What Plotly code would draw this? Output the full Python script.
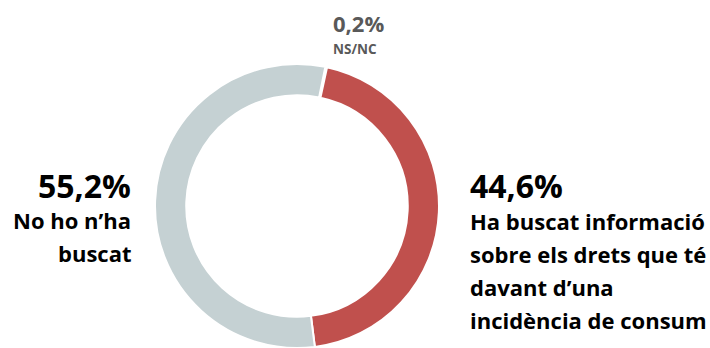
import plotly.graph_objects as go

# Survey answers (percent of respondents)
labels = ["NS/NC", "Ha buscat informació sobre els drets que té davant d’una incidència de consum", "No ho n’ha buscat"]
values = [0.2, 44.6, 55.2]
colors = ["#ffffff", "#c0504d", "#c5d1d3"]

# Text lines for the side labels
right_lines = ["Ha buscat informació", "sobre els drets que té", "davant d’una", "incidència de consum"]
left_lines = ["No ho n’ha", "buscat"]

W, H = 710, 348
CX, R = 297, 142  # ring centre x and outer radius in pixels

def pct(v):
    return f"{v:.1f}".replace(".", ",") + "%"

fig = go.Figure(go.Pie(
    labels=labels,
    values=values,
    hole=0.78,
    sort=False,
    direction="clockwise",
    rotation=11.5,
    marker=dict(colors=colors, line=dict(color="#ffffff", width=2)),
    textinfo="none",
    hoverinfo="label+percent",
    domain=dict(x=[(CX - R) / W, (CX + R) / W], y=[0, 2 * R / H]),
    showlegend=False,
))

FONT = "Open Sans"

def ann(x, y, text, size, color="#000000", xanchor="left"):
    fig.add_annotation(
        x=x / W, y=1 - y / H, xref="paper", yref="paper",
        text=text, showarrow=False, xanchor=xanchor, yanchor="middle", align=xanchor,
        font=dict(family=FONT, size=size, color=color),
    )

# NS/NC label above the ring
ann(358, 23, f"<b>{pct(values[0])}</b>", 22, "#595959", "center")
ann(355, 49, f"<b>{labels[0]}</b>", 13.5, "#595959", "center")

# Right label
ann(468, 185, f"<b>{pct(values[1])}</b>", 32)
for i, line in enumerate(right_lines):
    ann(468, 221 + 33 * i, f"<b>{line}</b>", 22)

# Left label
ann(133, 185, f"<b>{pct(values[2])}</b>", 32, xanchor="right")
for i, line in enumerate(left_lines):
    ann(133, 220 + 33 * i, f"<b>{line}</b>", 22, xanchor="right")

fig.update_layout(
    width=W, height=H,
    margin=dict(l=0, r=0, t=0, b=0),
    paper_bgcolor="#ffffff",
    plot_bgcolor="#ffffff",
)

fig.write_html("out.html")
